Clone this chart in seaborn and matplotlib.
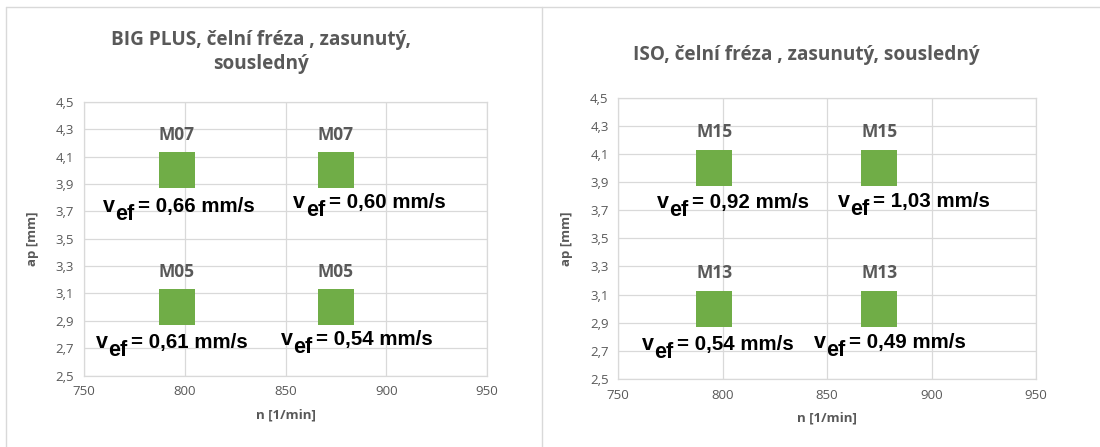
import matplotlib
matplotlib.use("Agg")
import matplotlib.pyplot as plt
from matplotlib.lines import Line2D
from matplotlib.transforms import offset_copy
import seaborn as sns
import pandas as pd

# --- data -------------------------------------------------------------
n_rpm = [796, 875, 796, 875]          # spindle speed n [1/min]
ap_mm = [4.0, 4.0, 3.0, 3.0]          # depth of cut ap [mm]

names_big = ["M07", "M07", "M05", "M05"]
vef_big = ["0,66", "0,60", "0,61", "0,54"]

names_iso = ["M15", "M15", "M13", "M13"]
vef_iso = ["0,92", "1,03", "0,54", "0,49"]

title_big = "BIG PLUS, čelní fréza , zasunutý,\nsousledný"
title_iso = "ISO, čelní fréza , zasunutý, sousledný"

x_ticks = [750, 800, 850, 900, 950]
y_ticks = [2.5, 2.7, 2.9, 3.1, 3.3, 3.5, 3.7, 3.9, 4.1, 4.3, 4.5]

# label placement relative to each marker (n offset, ap offset of baseline)
vef_shift_big = [(1, -0.303), (16.6, -0.274), (-2.5, -0.30), (10.4, -0.276)]
vef_shift_iso = [(9, -0.286), (16.6, -0.28), (1.7, -0.294), (4.9, -0.278)]
name_rise = 0.22

# --- style ------------------------------------------------------------
sns.set_theme(style="white")
plt.rcParams["font.family"] = ["Open Sans", "DejaVu Sans"]

GRAY_TXT = "#595959"
GRID = "#D9D9D9"
GREEN = "#70AD47"

W, H = 1100, 447
fig = plt.figure(figsize=(W / 100, H / 100), dpi=100)
fig.patch.set_facecolor("white")
renderer = fig.canvas.get_renderer()


def px_rect(l, t, r, b):
    return [l / W, 1 - b / H, (r - l) / W, (b - t) / H]


def vef_label(ax, xc, yb, value):
    """Write 'v_ef = value mm/s' centred on xc with its baseline at yb."""
    parts = [("v", 15.5, 0), ("ef", 15.5, -8), ("= " + value + " mm/s", 14.8, 0)]
    gaps = [0, 0.5, 3.5]
    texts = []
    for s, size, _ in parts:
        t = ax.text(xc, yb, s, ha="left", va="baseline", fontsize=size,
                    fontweight="bold", family="Liberation Sans", color="black",
                    zorder=4)
        texts.append(t)
    widths = [t.get_window_extent(renderer).width for t in texts]
    total = sum(widths) + sum(gaps)
    x = -total / 2
    for t, w, g, (_, _, dy) in zip(texts, widths, gaps, parts):
        x += g
        t.set_transform(offset_copy(ax.transData, fig=fig, x=x, y=dy, units="dots"))
        x += w


def draw_panel(ax, names, vefs, shifts, title, title_xy):
    df = pd.DataFrame({"n": n_rpm, "ap": ap_mm})
    sns.scatterplot(data=df, x="n", y="ap", ax=ax, marker="s", s=650,
                    color=GREEN, linewidth=0, zorder=3, legend=False)
    ax.set_xlim(750, 950)
    ax.set_ylim(2.5, 4.5)
    ax.set_xticks(x_ticks)
    ax.set_yticks(y_ticks)
    ax.set_xticklabels([str(v) for v in x_ticks])
    ax.set_yticklabels([f"{v:.1f}".replace(".", ",") for v in y_ticks])
    ax.tick_params(axis="both", length=0, labelsize=9.5, labelcolor=GRAY_TXT, pad=7)
    ax.grid(True, color=GRID, linewidth=0.9)
    ax.set_axisbelow(True)
    for sp in ax.spines.values():
        sp.set_color(GRID)
        sp.set_linewidth(0.9)
    ax.set_xlabel("n [1/min]", fontsize=9.5, fontweight="bold", color=GRAY_TXT, labelpad=7)
    ax.set_ylabel("ap [mm]", fontsize=9.5, fontweight="bold", color=GRAY_TXT, labelpad=12)

    for x, y, nm, v, (dx, dy) in zip(n_rpm, ap_mm, names, vefs, shifts):
        ax.text(x, y + name_rise, nm, ha="center", va="baseline",
                fontsize=12.5, fontweight="bold", color=GRAY_TXT, zorder=4)
        vef_label(ax, x + dx, y + dy, v)

    fig.text(title_xy[0] / W, 1 - title_xy[1] / H, title, ha="center", va="center",
             fontsize=13.7, fontweight="bold", color=GRAY_TXT, linespacing=1.3)


ax1 = fig.add_axes(px_rect(84, 101.7, 487, 375.7))
ax2 = fig.add_axes(px_rect(618.3, 97.7, 1036, 379))
draw_panel(ax1, names_big, vef_big, vef_shift_big, title_big, (261, 52))
draw_panel(ax2, names_iso, vef_iso, vef_shift_iso, title_iso, (806, 55))

# chart-area frames
def fig_line(x0, y0, x1, y1):
    fig.add_artist(Line2D([x0 / W, x1 / W], [1 - y0 / H, 1 - y1 / H],
                          color=GRID, linewidth=1.0, transform=fig.transFigure))

fig_line(6, 6.5, W, 6.5)
fig_line(6, 6.5, 6, H)
fig_line(541.5, 6.5, 541.5, H)

fig.savefig("out.png", dpi=100, facecolor="white")
